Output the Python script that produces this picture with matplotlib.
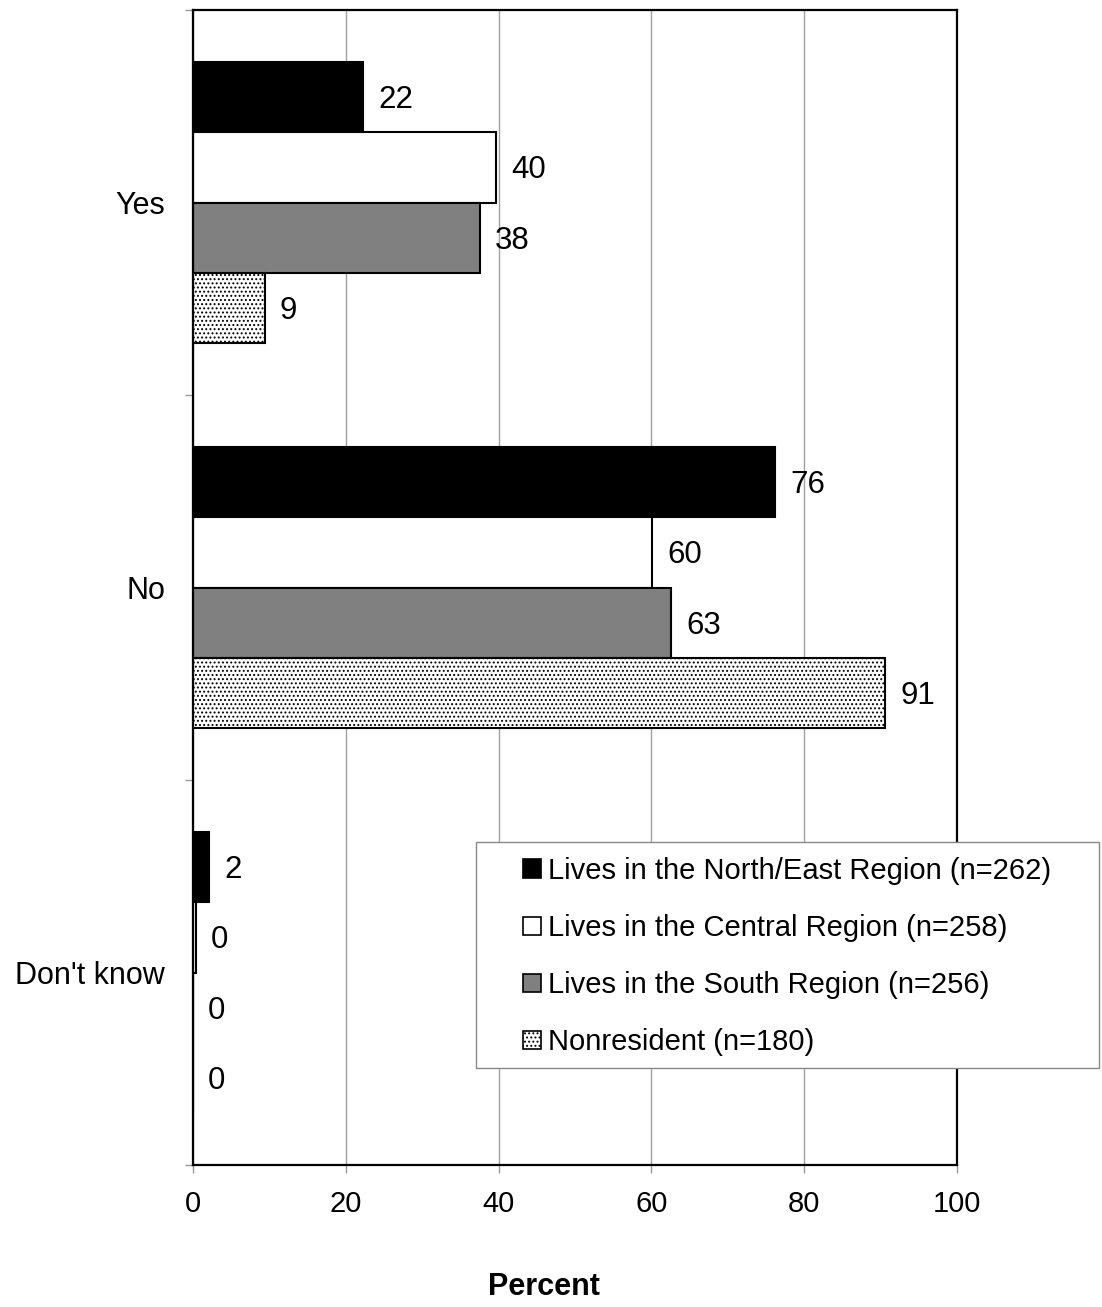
import matplotlib
matplotlib.use("Agg")
import matplotlib.pyplot as plt
from matplotlib.patches import Rectangle, Patch
import numpy as np

plt.rcParams['font.family'] = ['Liberation Sans', 'DejaVu Sans']
plt.rcParams['hatch.linewidth'] = 0.9

categories = ["Yes", "No", "Don't know"]
series_names = ["Lives in the North/East Region (n=262)",
                "Lives in the Central Region (n=258)",
                "Lives in the South Region (n=256)",
                "Nonresident (n=180)"]
north_east = [22.3, 76.2, 2.1]
central = [39.7, 60.1, 0.4]
south = [37.6, 62.6, 0.0]
nonresident = [9.4, 90.6, 0.0]
xticks = [0, 20, 40, 60, 80, 100]

series = [north_east, central, south, nonresident]
facecolors = ["black", "white", "#808080", "white"]
hatches = [None, None, None, "...."]

fig = plt.figure(figsize=(11.02, 13.07), dpi=100)
ax = fig.add_axes([193/1102, 1 - 1165/1307, (957-193)/1102, (1165-10)/1307])

h = 0.182
y = np.arange(len(categories))
offsets = [-1.5*h, -0.5*h, 0.5*h, 1.5*h]
for vals, fc, hatch, off, name in zip(series, facecolors, hatches, offsets, series_names):
    ax.barh(y + off, vals, height=h, color=fc, edgecolor="black",
            linewidth=1.5, hatch=hatch, zorder=3, label=name)
    for yy, v in zip(y + off, vals):
        ax.annotate(f"{round(v):d}", xy=(v, yy), xytext=(15, -3),
                    textcoords="offset pixels",
                    ha="left", va="center", fontsize=22.5, zorder=4)

ax.set_xlim(0, 100)
ax.set_ylim(2.5, -0.5)
ax.set_xticks(xticks)
ax.set_xticklabels([str(t) for t in xticks], fontsize=21)
ax.tick_params(axis="x", length=6, color="#999999", width=1, pad=12)
ax.set_yticks([-0.5, 0.5, 1.5, 2.5])
ax.set_yticklabels([])
ax.set_yticks(y, minor=True)
ax.set_yticklabels(categories, minor=True, fontsize=22)
ax.tick_params(axis="y", which="major", length=6, color="#999999", width=1)
ax.tick_params(axis="y", which="minor", length=0, pad=20)
ax.grid(axis="x", color="#a0a0a0", linewidth=1, zorder=0)
ax.set_axisbelow(True)
for s in ax.spines.values():
    s.set_linewidth(1.6)
    s.set_color("black")
    s.set_zorder(5)

fig.text(544/1102, 1 - 1287/1307, "Percent", ha="center", va="center",
         fontsize=22, fontweight="bold")

# legend frame
fig.patches.append(Rectangle((476/1102, 1 - 1068/1307), (1099-476)/1102,
                             (1068-842)/1307, transform=fig.transFigure,
                             facecolor="white", edgecolor="#888888", linewidth=1, zorder=10))
handles = [Patch(facecolor=fc, edgecolor="black", hatch=hc, linewidth=1.2)
           for fc, hc in zip(facecolors, hatches)]
leg = fig.legend(handles, series_names, loc="upper left",
                 bbox_to_anchor=(523/1102, 1 - 857/1307), frameon=False,
                 fontsize=21, handlelength=0.6, handleheight=0.6,
                 handletextpad=0.25, labelspacing=1.0, borderpad=0,
                 borderaxespad=0)
leg.set_zorder(11)

fig.savefig("out.png", dpi=100)
